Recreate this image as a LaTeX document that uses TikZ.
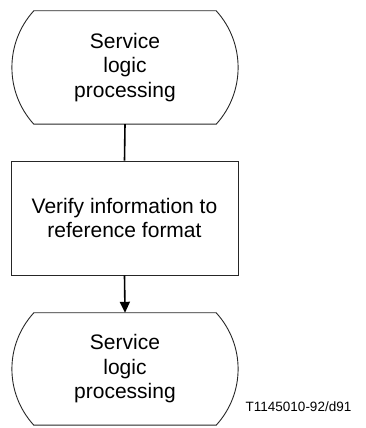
\documentclass[tikz,border=0pt]{standalone}
\usepackage{fontspec}
\setmainfont{Liberation Sans}
\usetikzlibrary{arrows.meta,calc}
\begin{document}
\begin{tikzpicture}[x=1pt,y=1pt,
  outline/.style={draw=black!85,line width=0.9pt},
  txt/.style={align=center,font=\fontsize{21}{24.5}\selectfont,inner sep=0pt},
  conn/.style={line width=1.6pt},
  arr/.style={conn,-{Triangle[length=11pt,width=10pt]}}]
\useasboundingbox (0,0) rectangle (366,428);
% top service logic processing
\node[txt,minimum width=182pt,minimum height=113pt] (s1) at (125,360.5) {Service\\logic\\processing};
\draw[outline] (s1.north west) -- (s1.north east)
  .. controls ($(s1.north east)+(29.2,-32.1)$) and ($(s1.south east)+(29.2,32.1)$) .. (s1.south east)
  -- (s1.south west)
  .. controls ($(s1.south west)+(-29.2,32.1)$) and ($(s1.north west)+(-29.2,-32.1)$) .. (s1.north west) -- cycle;
% rectangle
\node[txt,outline,minimum width=227pt,minimum height=114pt] (v) at (124.5,210) {Verify information to\\reference format};
% bottom service logic processing
\node[txt,minimum width=182pt,minimum height=112pt] (s2) at (125,59) {Service\\logic\\processing};
\draw[outline] (s2.north west) -- (s2.north east)
  .. controls ($(s2.north east)+(29.2,-32.1)$) and ($(s2.south east)+(29.2,32.1)$) .. (s2.south east)
  -- (s2.south west)
  .. controls ($(s2.south west)+(-29.2,32.1)$) and ($(s2.north west)+(-29.2,-32.1)$) .. (s2.north west) -- cycle;
% connectors
\draw[conn] (s1.south) -- (v.north);
\draw[arr] (v.south) -- (s2.north);
% label
\node[font=\fontsize{13.5}{15}\selectfont,inner sep=0pt] (lbl) at (298.5,21) {T1145010-92/d91};
\end{tikzpicture}
\end{document}
